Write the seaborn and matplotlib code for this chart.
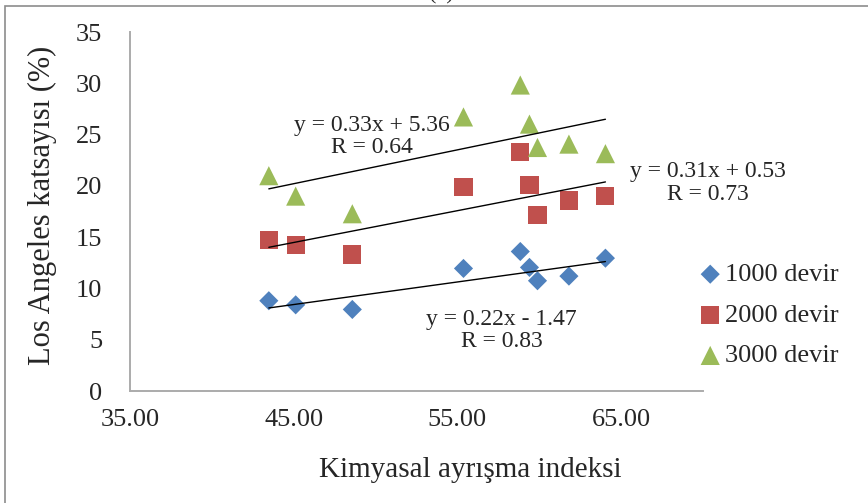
import numpy as np
import pandas as pd
import matplotlib
matplotlib.use("Agg")
import matplotlib.pyplot as plt
import seaborn as sns
from matplotlib.patches import Rectangle

# ---- data ----
x_index = [43.48, 45.12, 48.58, 55.37, 58.84, 59.40, 59.89, 61.81, 64.04]
la_1000 = [8.80, 8.40, 7.95, 11.95, 13.60, 12.05, 10.75, 11.20, 12.95]
la_2000 = [14.70, 14.20, 13.31, 19.93, 23.31, 20.10, 17.12, 18.57, 19.00]
la_3000 = [20.99, 19.00, 17.28, 26.72, 29.83, 26.02, 23.74, 24.07, 23.14]
series_names = ["1000 devir", "2000 devir", "3000 devir"]
slopes = [0.22, 0.31, 0.33]
intercepts = [-1.47, 0.53, 5.36]
r_values = [0.83, 0.73, 0.64]
x_ticks = [35, 45, 55, 65]
y_ticks = [0, 5, 10, 15, 20, 25, 30, 35]
x_title = "Kimyasal ayrışma indeksi"
y_title = "Los Angeles katsayısı (%)"

# ---- styling ----
colors = ["#4F81BD", "#C0504D", "#9BBB59"]
markers = ["D", "s", "^"]
msizes = [95, 170, 190]
label_pos = [(57.7, 5.9), (70.3, 20.3), (49.8, 24.8)]

sns.set_style("white")
plt.rcParams["font.family"] = ["Liberation Serif", "DejaVu Serif"]

fig = plt.figure(figsize=(8.68, 5.03), dpi=100)
ax = fig.add_axes([130 / 868, 1 - 391 / 503, (703 - 130) / 868, (391 - 32) / 503])

values = [la_1000, la_2000, la_3000]
for name, vals, c, m, s in zip(series_names, values, colors, markers, msizes):
    df = pd.DataFrame({"x": x_index, "y": vals})
    sns.scatterplot(data=df, x="x", y="y", marker=m, color=c, s=s,
                    edgecolor="none", linewidth=0, ax=ax, label=name, zorder=3)

for slope, icpt, r, (tx, ty) in zip(slopes, intercepts, r_values, label_pos):
    xs = np.array([min(x_index), max(x_index)])
    ax.plot(xs, slope * xs + icpt, color="black", lw=1.0, zorder=4)
    sign = "+" if icpt >= 0 else "-"
    txt = f"y = {slope:.2f}x {sign} {abs(icpt):.2f}\nR = {r:.2f}"
    ax.text(tx, ty, txt, ha="center", va="center", multialignment="center",
            fontsize=17, linespacing=1.1, clip_on=False, zorder=5)

ax.set_xlim(35, 70)
ax.set_ylim(0, 35)
ax.set_xticks(x_ticks)
ax.set_xticklabels([f"{v:.2f}" for v in x_ticks])
ax.set_yticks(y_ticks)
ax.set_yticklabels([str(v) for v in y_ticks])
ax.tick_params(axis="both", length=0, labelsize=19)
ax.tick_params(axis="x", pad=13)
ax.tick_params(axis="y", pad=20)
ax.set_xlabel("")
ax.set_ylabel("")
for side in ["top", "right"]:
    ax.spines[side].set_visible(False)
for side in ["left", "bottom"]:
    ax.spines[side].set_color("#ABABAB")
    ax.spines[side].set_linewidth(1.4)

fig.text(470 / 868, 1 - 470 / 503, x_title, ha="center", va="center", fontsize=21)
fig.text(42 / 868, 1 - 205 / 503, y_title, ha="center", va="center",
         rotation=90, fontsize=22)

ax.legend(loc="center left", bbox_to_anchor=(699 / 868, 1 - 315 / 503),
          bbox_transform=fig.transFigure, frameon=False, fontsize=19,
          handletextpad=0.15, labelspacing=0.65, handlelength=0.85,
          borderpad=0, borderaxespad=0, scatterpoints=1)

fig.patches.append(Rectangle((5 / 868, -0.05), 1.1, 1.05 - 6 / 503,
                             transform=fig.transFigure, fill=False,
                             edgecolor="#8C8C8C", lw=1.2))
fig.text(441 / 868, 1 + 1 / 503, "(c)", ha="center", va="baseline", fontsize=16)

fig.savefig("out.png", dpi=100)
